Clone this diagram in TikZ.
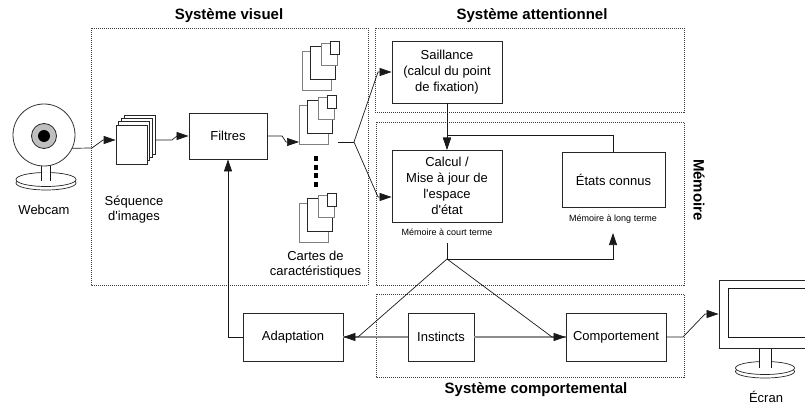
\documentclass[tikz,border=0pt]{standalone}
\usepackage{fontspec}
\setmainfont{Liberation Sans}
\usetikzlibrary{arrows.meta}
\newcommand\mainsz{\fontsize{13}{16}\selectfont}
\newcommand\labsz{\fontsize{13}{15}\selectfont}
\newcommand\titsz{\fontsize{15}{18}\selectfont\bfseries}
\newcommand\smlsz{\fontsize{9}{11}\selectfont}
\begin{document}
\begin{tikzpicture}[x=1pt,y=-1pt,
  box/.style={draw=black!85, line width=0.8pt, fill=white, inner sep=0pt, font=\mainsz, align=center},
  grp/.style={draw=black!75, line width=0.6pt, dash pattern=on 1pt off 1pt},
  arr/.style={draw=black!90, line width=0.7pt, -{Triangle[length=12pt,width=8pt]}},
  conn/.style={draw=black!90, line width=0.7pt},
  gline/.style={draw=black!45, line width=1.3pt},
  sheet/.style={draw=black!85, line width=0.7pt, fill=white, inner sep=0pt},
  gsheet/.style={draw=black!50, line width=0.7pt, fill=white},
  title/.style={font=\titsz, inner sep=0pt},
  lab/.style={font=\labsz, align=center, inner sep=0pt},
  sml/.style={font=\smlsz, inner sep=0pt},
  fmap/.pic={
    \draw[gsheet] (0,0) rectangle (29,-39);
    \draw[sheet] (8,-11) rectangle (33,-44);
    \draw[gsheet] (19,-25) rectangle (35,-47);
    \draw[sheet] (28,-36) rectangle (37,-49);
  }
]
\useasboundingbox (0,0) rectangle (805,406);
\clip (0,0) rectangle (805,406);

% group frames
\draw[grp] (91,28) rectangle (368,285);
\draw[grp] (375,28) rectangle (684,112);
\draw[grp] (376,122) rectangle (684,285);
\draw[grp] (376,294) rectangle (684,377);

% titles
\node[title] (tvis) at (229,16) {Système visuel};
\node[title] (tatt) at (532,16) {Système attentionnel};
\node[title] (tcomp) at (536,390) {Système comportemental};
\node[title, rotate=-90] (tmem) at (699,190) {Mémoire};

% webcam
\draw[sheet] (46,183) ellipse [x radius=30pt, y radius=7pt];
\draw[sheet] (46,179.5) ellipse [x radius=30pt, y radius=7pt];
\fill[white] (41,160) rectangle (50,181);
\draw[conn] (41,160) -- (41,181) (50,160) -- (50,181);
\node[circle, draw=black!80, line width=0.8pt, fill=white, minimum size=62pt, inner sep=0pt] (cam) at (44,135) {};
\node[circle, draw=black!85, line width=0.8pt, fill=black!25, minimum size=25pt, inner sep=0pt] (lens) at (44,136) {};
\fill[black] (lens.center) circle (6pt);
\node[lab] (lcam) at (44,210) {Webcam};

% image sequence
\node[sheet, minimum width=31pt, minimum height=39pt] (seq3) at (139.5,134.5) {};
\node[sheet, minimum width=31pt, minimum height=39pt] (seq2) at (136.8,137.8) {};
\node[sheet, minimum width=31pt, minimum height=39pt] (seq1) at (134.2,141.2) {};
\node[sheet, minimum width=31pt, minimum height=39pt] (seq) at (131.5,144.5) {};
\node[lab] (lseq) at (134,209.5) {Séquence\\d\textquotesingle images};

% filters
\node[box, minimum width=78pt, minimum height=46pt] (filtres) at (228,136) {Filtres};

% feature maps
\pic at (302,90) {fmap};
\pic at (299,144) {fmap};
\pic at (299,242) {fmap};
\draw[line width=3.5pt, dash pattern=on 5pt off 3.7pt] (316,156) -- (316,187);
\node[lab] (lcartes) at (315.5,264.5) {Cartes de\\caractéristiques};
\coordinate (mapin) at (299,142);
\coordinate (mapout) at (338,142);
\coordinate (br1) at (354,142);

% attention / memory
\node[box, minimum width=110pt, minimum height=62pt] (sail) at (447,72) {Saillance\\(calcul du point\\de fixation)};
\node[box, minimum width=110pt, minimum height=72pt] (calc) at (447,186) {Calcul /\\Mise à jour de\\l\textquotesingle espace\\d\textquotesingle état};
\node[box, minimum width=103pt, minimum height=55pt] (etats) at (613.5,179.5) {États connus};
\node[sml] (stm) at (447,232) {Mémoire à court terme};
\node[sml] (ltm) at (613,219) {Mémoire à long terme};
\coordinate (stmdown) at (447,243);
\coordinate (ltmup) at (613,233);
\coordinate (br2) at (447,259);

% behaviour
\node[box, minimum width=100pt, minimum height=48pt] (adapt) at (293,337) {Adaptation};
\node[box, minimum width=66pt, minimum height=48pt] (inst) at (441,337) {Instincts};
\node[box, minimum width=100pt, minimum height=48pt] (comp) at (616,337) {Comportement};

% screen
\draw[sheet] (765,371.5) ellipse [x radius=29.5pt, y radius=6.5pt];
\draw[sheet] (765,368) ellipse [x radius=29.5pt, y radius=6.5pt];
\fill[white] (759,345) rectangle (771,368);
\draw[conn] (759,345) -- (759,368) (771,345) -- (771,368);
\node[sheet, line width=0.8pt, minimum width=111pt, minimum height=68pt] (screen) at (774.5,314) {};
\draw[conn] (728,288) rectangle (840,337);
\node[lab] (lecran) at (766,397) {Écran};

% connectors
\draw[arr] (cam.-25) -- (92,148) -- (103,140) -- ([yshift=4.5pt]seq.west);
\draw[arr] ([yshift=-5.5pt]seq3.east) -- (172,140) -- (177,136) -- (filtres.west);
\draw[arr] (filtres.east) -- (282,136) -- (286,142) -- (mapin);
\draw[conn] (mapout) -- (br1);
\draw[arr] (br1) -- (378,72) -- (sail.west);
\draw[arr] (br1) -- (378,197) -- ([yshift=-11pt]calc.west);
\draw[arr] (sail.south) -- (calc.north);
\draw[arr] (etats.north) |- (447,135) -- (calc.north);
\draw[arr] (stmdown) -- (br2) -| (ltmup);
\draw[gline] (inst.west) -- (adapt.east);
\draw[gline] (inst.east) -- (comp.west);
\draw[arr] (br2) -- (358,337) -- (adapt.east);
\draw[arr] (br2) -- (552,337) -- (comp.west);
\draw[arr] (adapt.west) -| (filtres.south);
\draw[arr] (comp.east) -- (683,337) -- (705,314) -- (screen.west);
\end{tikzpicture}
\end{document}
